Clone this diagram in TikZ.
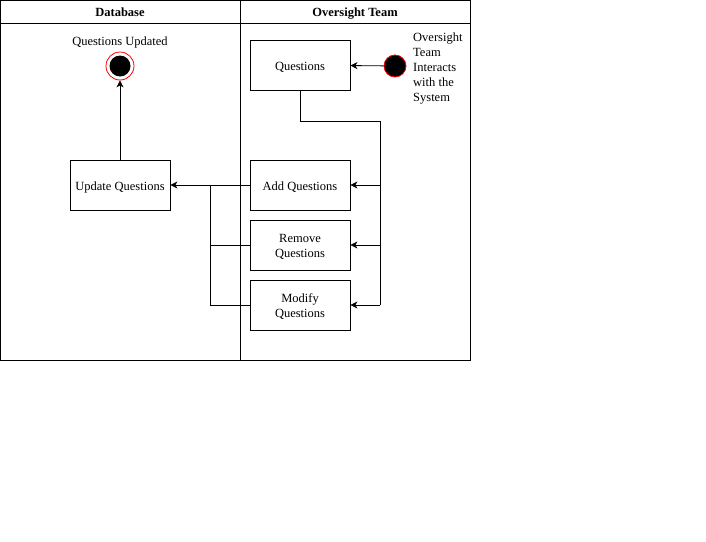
\documentclass[tikz,border=0pt]{standalone}
\usepackage{fontspec}
\setmainfont{Liberation Serif}
\usetikzlibrary{arrows.meta}
\begin{document}
\begin{tikzpicture}[x=1pt,y=-1pt,
  every node/.style={font=\fontsize{12.5}{15}\selectfont},
  stepbox/.style={draw,line width=0.8pt,minimum width=100pt,minimum height=50pt,inner sep=0pt},
  boxtext/.style={align=center,inner sep=0pt},
  flow/.style={line width=0.8pt,-{Stealth[length=7pt,width=7pt,inset=2pt]}},
  plain/.style={line width=0.8pt},
  header/.style={font=\fontsize{12.5}{15}\selectfont\bfseries,anchor=base}]
\useasboundingbox (0,0) rectangle (706,541);
\fill[white] (0,0) rectangle (706,541);
% swimlane pool
\draw[plain] (0,0) rectangle (470,360);
\draw[plain] (0,23) -- (470,23);
\draw[plain] (240,0) -- (240,360);
\node[header] (h1) at (120,16.5) {Database};
\node[header] (h2) at (355,16.5) {Oversight Team};
% database lane
\node[anchor=base] (updlbl) at (120,45.5) {Questions Updated};
\node[circle,draw=red,line width=0.8pt,minimum size=28pt,inner sep=0pt] (endst) at (120,66) {};
\fill[black] (endst.center) circle (10.5pt);
\node[stepbox] (upd) at (120,185) {};
\node[boxtext] at ([yshift=-2pt]upd.center) {Update Questions};
% oversight lane
\node[stepbox] (q) at (300,65) {};
\node[boxtext] at ([yshift=-2pt]q.center) {Questions};
\node[circle,draw=red,fill=black,line width=0.8pt,minimum size=22pt,inner sep=0pt] (start) at (395,66) {};
\node[anchor=north west,align=left,inner sep=0pt] (startlbl) at (413,33) {Oversight\\Team\\Interacts\\with the\\System};
\node[stepbox] (add) at (300,185) {};
\node[boxtext] at ([yshift=-2pt]add.center) {Add Questions};
\node[stepbox] (rem) at (300,245) {};
\node[boxtext] at ([yshift=-2pt]rem.center) {Remove\\Questions};
\node[stepbox] (mod) at (300,305) {};
\node[boxtext] at ([yshift=-2pt]mod.center) {Modify\\Questions};
% connectors
\draw[flow] (start) -- (q);
\coordinate (qdown) at (300,121);
\coordinate (rail) at (380,121);
\draw[plain] (q.south) -- (qdown) -- (rail) -- (rail |- mod.east);
\draw[flow] (rail |- add.east) -- (add.east);
\draw[flow] (rail |- rem.east) -- (rem.east);
\draw[flow] (rail |- mod.east) -- (mod.east);
\coordinate (merge) at (210,185);
\draw[flow] (add.west) -- (upd.east);
\draw[plain] (rem.west) -- (merge |- rem.west) -- (merge);
\draw[plain] (mod.west) -- (merge |- mod.west) -- (merge |- rem.west);
\draw[flow] (upd.north) -- (endst.south);
\end{tikzpicture}
\end{document}
